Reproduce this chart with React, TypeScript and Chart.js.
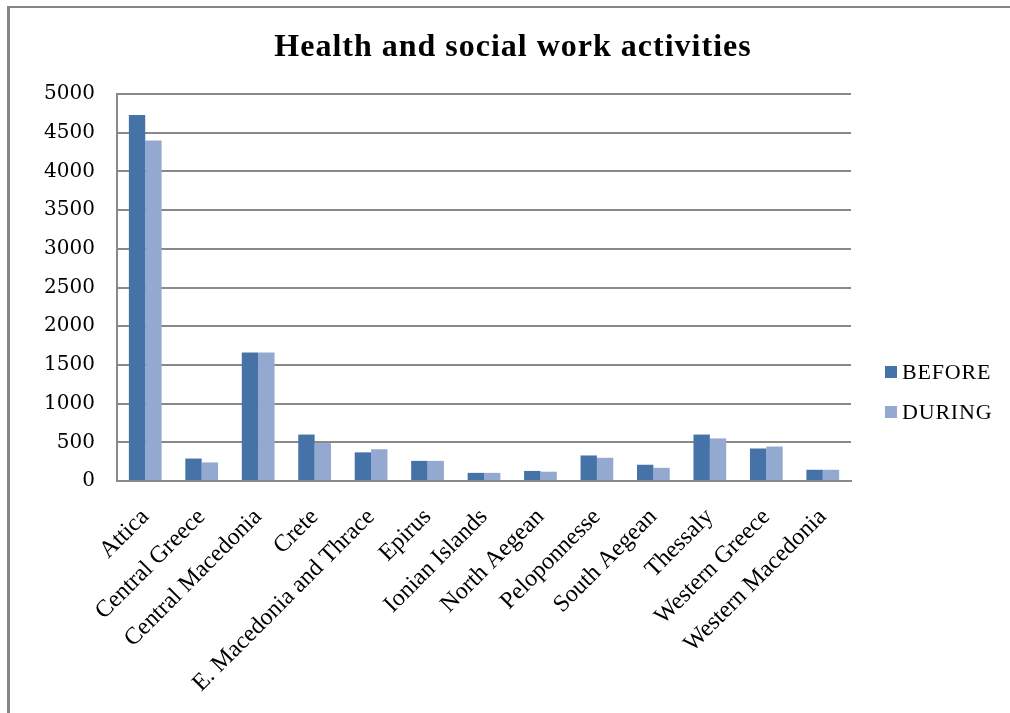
import React, { useEffect, useRef } from "react";
import { Chart, registerables } from "chart.js";

Chart.register(...registerables);

const titleText = "Health and social work activities";
const categories = [
  "Attica",
  "Central Greece",
  "Central Macedonia",
  "Crete",
  "E. Macedonia and Thrace",
  "Epirus",
  "Ionian Islands",
  "North Aegean",
  "Peloponnesse",
  "South Aegean",
  "Thessaly",
  "Western Greece",
  "Western Macedonia",
];
const beforeValues = [4730, 290, 1660, 600, 370, 260, 105, 130, 330, 210, 600, 420, 145];
const duringValues = [4400, 240, 1660, 490, 410, 260, 105, 120, 300, 170, 550, 445, 145];
const seriesNames = ["BEFORE", "DURING"];
const seriesColors = ["#4673A7", "#94A9D0"];
const yMin = 0;
const yMax = 5000;
const yStep = 500;

const GRID = "#898989";

export default function App() {
  const canvasRef = useRef<HTMLCanvasElement | null>(null);

  useEffect(() => {
    const canvas = canvasRef.current;
    if (!canvas) return;
    const chart = new Chart(canvas, {
      type: "bar",
      data: {
        labels: categories,
        datasets: [
          {
            label: seriesNames[0],
            data: beforeValues,
            backgroundColor: seriesColors[0],
            borderWidth: 0,
            categoryPercentage: 0.58,
            barPercentage: 1.0,
          },
          {
            label: seriesNames[1],
            data: duringValues,
            backgroundColor: seriesColors[1],
            borderWidth: 0,
            categoryPercentage: 0.58,
            barPercentage: 1.0,
          },
        ],
      },
      options: {
        animation: false,
        responsive: false,
        maintainAspectRatio: false,
        layout: { padding: { top: 94, right: 159, left: 0, bottom: 0 } },
        plugins: {
          legend: { display: false },
          title: { display: false },
          tooltip: { enabled: false },
        },
        scales: {
          x: {
            grid: { display: false, drawTicks: false },
            border: { display: true, color: GRID, width: 2 },
            ticks: {
              autoSkip: false,
              minRotation: 45,
              maxRotation: 45,
              padding: 22,
              color: "#000",
              font: { family: "Liberation Serif", size: 24 },
            },
            afterFit: (s: any) => {
              s.height = 232;
            },
          },
          y: {
            min: yMin,
            max: yMax,
            ticks: {
              stepSize: yStep,
              padding: 22,
              color: "#000",
              font: { family: "DejaVu Serif", size: 20 },
              callback: (v: any) => String(v),
            },
            grid: { color: GRID, lineWidth: 2, drawTicks: false },
            border: { display: true, color: GRID, width: 2 },
            afterFit: (s: any) => {
              s.width = 117;
            },
          },
        },
      },
    });
    return () => chart.destroy();
  }, []);

  return (
    <div
      style={{
        position: "absolute",
        left: 0,
        top: 0,
        width: 1010,
        height: 713,
        overflow: "hidden",
        background: "#fff",
      }}
    >
      <canvas
        ref={canvasRef}
        width={1010}
        height={713}
        style={{ position: "absolute", left: 0, top: 0, width: 1010, height: 713 }}
      />
      <div
        style={{
          position: "absolute",
          left: 7,
          top: 6,
          width: 1003,
          height: 2,
          background: "#868686",
        }}
      />
      <div
        style={{
          position: "absolute",
          left: 7,
          top: 6,
          width: 3,
          height: 707,
          background: "#868686",
        }}
      />
      <div
        style={{
          position: "absolute",
          left: 996,
          top: 8,
          width: 14,
          height: 705,
          background: "#fff",
          zIndex: 10,
        }}
      />
      <div
        style={{
          position: "absolute",
          left: 0,
          top: 27,
          width: 1026,
          textAlign: "center",
          lineHeight: "36px",
          fontFamily: "'Liberation Serif', serif",
          fontWeight: "bold",
          fontSize: 32,
          letterSpacing: 1,
          color: "#000",
        }}
      >
        {titleText}
      </div>
      {seriesNames.map((name, i) => (
        <div
          key={name}
          style={{
            position: "absolute",
            left: 885,
            top: 358 + i * 40,
            height: 28,
            display: "flex",
            alignItems: "center",
            fontFamily: "'Liberation Serif', serif",
            fontSize: 22,
            letterSpacing: 0.8,
            color: "#000",
          }}
        >
          <span
            style={{
              display: "inline-block",
              width: 12,
              height: 12,
              background: seriesColors[i],
              marginRight: 5,
            }}
          />
          <span>{name}</span>
        </div>
      ))}
    </div>
  );
}
